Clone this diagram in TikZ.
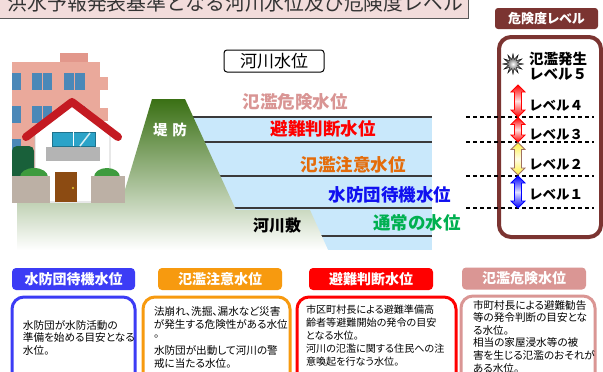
\documentclass[tikz,border=0pt]{standalone}
\usepackage{fontspec}
\setmainfont{Noto Sans CJK JP}[RawFeature=+palt]
\newfontfamily\jpmono{Noto Sans CJK JP}
\usetikzlibrary{shapes.geometric}

\definecolor{titlepink}{HTML}{F2DCDB}
\definecolor{titletext}{HTML}{333333}
\definecolor{dkmaroon}{HTML}{7B3431}
\definecolor{water}{HTML}{C9E8FB}
\definecolor{waterline}{HTML}{3A3A3A}
\definecolor{lvpink}{HTML}{D99594}
\definecolor{lvred}{HTML}{FF0000}
\definecolor{lvorange}{HTML}{E46C0A}
\definecolor{lvblue}{HTML}{1010F0}
\definecolor{lvgreen}{HTML}{00B050}
\definecolor{hdblue}{HTML}{3C3CF5}
\definecolor{hdorange}{HTML}{F79A0F}
\definecolor{hdred}{HTML}{FF0000}
\definecolor{hdpink}{HTML}{DA9694}
\definecolor{leveegreen}{HTML}{3A7014}
\definecolor{leveemid}{HTML}{A3BD8B}
\definecolor{bldg}{HTML}{EAA99B}
\definecolor{bldgtop}{HTML}{E2978B}
\definecolor{winblue}{HTML}{4B88B8}
\definecolor{roofred}{HTML}{C41A22}
\definecolor{housewin}{HTML}{2BA3C8}
\definecolor{balcony}{HTML}{B4B4B4}
\definecolor{doorbrown}{HTML}{8C4B12}
\definecolor{fence}{HTML}{BCB0A5}
\definecolor{bushgreen}{HTML}{3E9B3E}
\definecolor{bushdark}{HTML}{19603A}
\definecolor{arrowbrown}{HTML}{A07060}
\definecolor{arrowyellow}{HTML}{FFF040}

% one text line per node, stacked at a fixed pitch
\newcommand{\txtlines}[5]{%
  \foreach \ln [count=\i] in {#5} {
    \node[bodytext] (#1\i) at (#2, {#3+(\i-1)*#4}) {\ln};
  }}

% vertical double-headed arrow: top y, bottom y, fill colour, outline colour, name
\newcommand{\dblarrow}[5]{%
  \draw[line width=0.8, draw=#4, top color=#3, bottom color=#3, middle color=#3!12]
    (518,#1) -- (525,{#1+7}) -- (521.5,{#1+7}) -- (521.5,{#2-7}) -- (525,{#2-7})
    -- (518,#2) -- (511,{#2-7}) -- (514.5,{#2-7}) -- (514.5,{#1+7}) -- (511,{#1+7}) -- cycle;
  \coordinate (#5) at (518,{(#1+#2)/2});}

\begin{document}
\begin{tikzpicture}[x=1pt,y=-1pt,
  every node/.style={inner sep=0pt, outer sep=0pt},
  lvltext/.style={font=\bfseries\fontsize{17.5}{18}\selectfont},
  hdr/.style={rounded corners=4, minimum width=124, minimum height=22,
    text=white, font=\bfseries\fontsize{14}{15}\selectfont},
  bodybox/.style={line width=3, rounded corners=12, fill=white},
  bodytext/.style={anchor=west, font=\fontsize{10.6}{12}\selectfont},
  guide/.style={line width=1.1, dash pattern=on 4pt off 3pt},
  lvlname/.style={anchor=west, font=\jpmono\bfseries\fontsize{13.5}{14}\selectfont},
  wline/.style={waterline, line width=1.3}]

\clip (0,0) rectangle (603,372);
\fill[white] (0,0) rectangle (603,372);

% ---- title bar ----
\draw[fill=titlepink, draw=black!65, line width=1] (-5,-20) rectangle (468.5,18.5);
\node[anchor=west, text=titletext, font=\jpmono\fontsize{19.8}{20}\selectfont] (title) at (8,3) {洪水予報発表基準となる河川水位及び危険度レベル};

% ---- water body and level lines ----
\fill[water] (185,117) rectangle (432,250);
\foreach \y [count=\k] in {117,142,176,208,236}
  \draw[wline] (185,\y) -- (432,\y) coordinate (wl\k);

% ---- levee, riverbed terrace and ground ----
\shade[top color=leveegreen, middle color=leveemid, bottom color=white]
  (17,203) -- (121,203) -- (152,99) -- (185,99) -- (236,210) -- (310,210)
  -- (328,250) -- (17,250) -- cycle;
\node[text=white, font=\bfseries\fontsize{14.5}{15}\selectfont] (levee) at (170,130) {堤\hspace{5pt}防};
\node[font=\bfseries\fontsize{16}{17}\selectfont] (terrace) at (277,225) {河川敷};

% ---- buildings ----
\fill[bldgtop] (60,53) rectangle (88,63);
\fill[bldg] (12,62) rectangle (100,200);
\fill[bldg] (100,77) rectangle (108,90);
\fill[bldg] (100,108) rectangle (108,121);
\foreach \y in {73,106} {
  \fill[winblue] (12,\y) rectangle (21,\y+17);
  \fill[winblue] (32,\y) rectangle (41.5,\y+17);
  \fill[winblue] (42.5,\y) rectangle (52,\y+17);
  \fill[winblue] (64,\y) rectangle (73.5,\y+17);
  \fill[winblue] (74.5,\y) rectangle (85,\y+17);
}
\fill[winblue] (12,139) rectangle (21,152);
\fill[bushdark, rounded corners=5] (12,146) rectangle (34,188);
\filldraw[fill=white, draw=black!25, line width=0.6]
  (35,134) -- (72,106) -- (110,134) -- (110,202) -- (35,202) -- cycle;
\draw[roofred, line width=8, line cap=round, line join=round] (26,137) -- (72,102) -- (118,137);
\filldraw[fill=housewin, draw=housewin!70!black, line width=0.5] (52,132) rectangle (95,146);
\draw[white, line width=1] (73.5,132) -- (73.5,146);
\draw[white!80!housewin, line width=1.5] (80,146) -- (90,133);
\fill[balcony] (46,147) rectangle (100,161);
\fill[doorbrown] (55,172) rectangle (77,202);
\fill[yellow!60!brown] (73,188) circle (1.1);
\fill[bushgreen] (34,177) ellipse (14 and 9);
\fill[bushgreen] (107,177) ellipse (13 and 9);
\fill[fence] (12,176) rectangle (50,203);
\fill[fence] (91,176) rectangle (125,203);

% ---- water level names ----
\node[draw, line width=1, rounded corners=3, minimum width=100, minimum height=22,
  font=\fontsize{17}{18}\selectfont] (rlv) at (274,61) {河川水位};
\node[lvltext, text=lvpink] (wl-danger) at (295,102) {氾濫危険水位};
\node[lvltext, text=lvred] (wl-evac) at (323,129) {避難判断水位};
\node[lvltext, text=lvorange] (wl-warn) at (353,165) {氾濫注意水位};
\node[lvltext, text=lvblue] (wl-standby) at (390,195) {水防団待機水位};
\node[lvltext, text=lvgreen] (wl-normal) at (417,223) {通常の水位};

% ---- danger level panel ----
\node[fill=dkmaroon, rounded corners=3, minimum width=103, minimum height=21, text=white,
  font=\bfseries\fontsize{13}{14}\selectfont] (lvhdr) at (546.5,18.5) {危険度レベル};
\draw[dkmaroon, line width=4, rounded corners=12, fill=white] (499,37) rectangle (601,237);
\foreach \y [count=\k] in {117,142,176,208}
  \draw[guide] (466,\y) coordinate (g\k) -- (594,\y);

\node[star, star points=12, star point ratio=2.2, minimum size=21, draw=black, line width=0.3,
  inner color=white, outer color=black] (burst) at (513,64) {};
\node[anchor=west, font=\jpmono\bfseries\fontsize{14.5}{15}\selectfont] (lv5a) at (529,59) {氾濫発生};
\node[anchor=west, font=\jpmono\bfseries\fontsize{14.5}{15}\selectfont] (lv5b) at (529,74.5) {レベル５};

\dblarrow{85}{117}{red}{red}{a4}
\dblarrow{117.5}{142}{red}{red}{a3}
\dblarrow{142.5}{175}{arrowyellow}{arrowbrown}{a2}
\dblarrow{176}{208}{blue}{blue}{a1}
\node[lvlname] (lv4) at (529,106) {レベル４};
\node[lvlname] (lv3) at (529,135) {レベル３};
\node[lvlname] (lv2) at (529,165) {レベル２};
\node[lvlname] (lv1) at (529,195) {レベル１};

% ---- explanation boxes ----
\node[hdr, fill=hdblue, minimum width=123] (h1) at (73.5,279) {水防団待機水位};
\draw[bodybox, draw=hdblue] (12,297) rectangle (135,390);
\txtlines{t1-}{23}{325}{12.5}{水防団が水防活動の,準備を始める目安となる,水位。}

\node[hdr, fill=hdorange] (h2) at (220,279) {氾濫注意水位};
\draw[bodybox, draw=hdorange] (143,297) rectangle (290,390);
\txtlines{t2-}{154}{311}{13}{法崩れ、洗掘、漏水など災害,が発生する危険性がある水位,。,水防団が出動して河川の警,戒に当たる水位。}

\node[hdr, fill=hdred] (h3) at (371,279) {避難判断水位};
\draw[bodybox, draw=hdred] (297,297) rectangle (456,390);
\begin{scope}[bodytext/.append style={font=\fontsize{10.1}{12}\selectfont}]
\txtlines{t3-}{306}{310}{13}{市区町村長による避難準備高,齢者等避難開始の発令の目安,となる水位。,河川の氾濫に関する住民への注,意喚起を行なう水位。}
\end{scope}

\node[hdr, fill=hdpink] (h4) at (524,278.5) {氾濫危険水位};
\draw[bodybox, draw=hdpink] (461,296) rectangle (595,390);
\txtlines{t4-}{473}{305}{12.6}{市町村長による避難勧告,等の発令判断の目安とな,る水位。,相当の家屋浸水等の被,害を生じる氾濫のおそれが,ある水位。}
\end{tikzpicture}
\end{document}
